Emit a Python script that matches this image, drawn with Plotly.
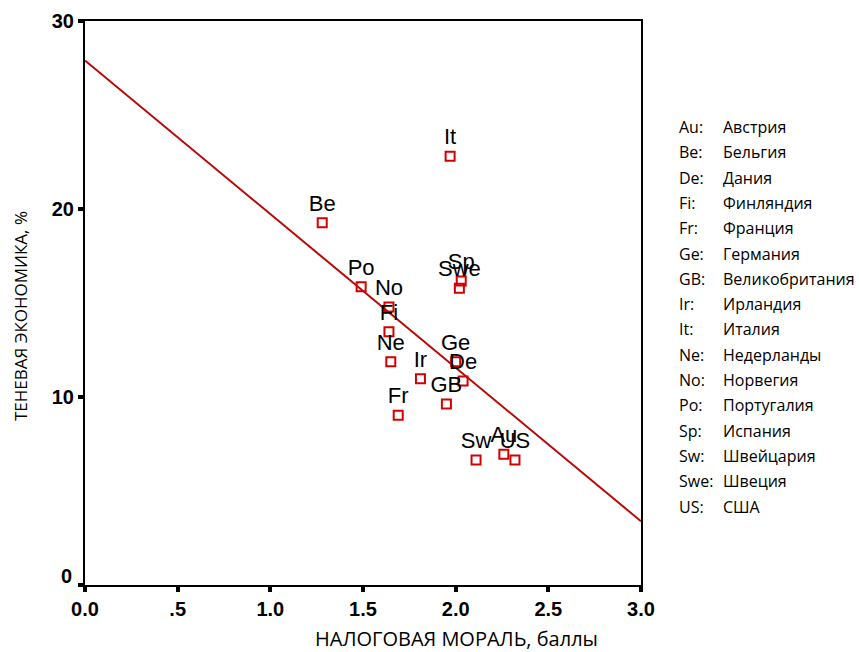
import plotly.graph_objects as go

# ---- data ----
codes = ["Au", "Be", "De", "Fi", "Fr", "Ge", "GB", "Ir", "It", "Ne", "No", "Po", "Sp", "Sw", "Swe", "US"]
names = ["Австрия", "Бельгия", "Дания", "Финляндия", "Франция", "Германия", "Великобритания",
         "Ирландия", "Италия", "Недерланды", "Норвегия", "Португалия", "Испания", "Швейцария",
         "Швеция", "США"]
tax_morale = [2.26, 1.28, 2.04, 1.64, 1.69, 2.00, 1.95, 1.81, 1.97, 1.65, 1.64, 1.49, 2.03, 2.11, 2.02, 2.32]
shadow_econ = [6.95, 19.27, 10.85, 13.47, 9.03, 11.88, 9.63, 10.97, 22.8, 11.88, 14.79, 15.87, 16.17, 6.65, 15.78, 6.65]

fit_intercept = 27.9
fit_slope = -8.17
fit_x = [0.0, 3.0]

x_tickvals = [0, 0.5, 1.0, 1.5, 2.0, 2.5, 3.0]
x_ticktext = ["0.0", ".5", "1.0", "1.5", "2.0", "2.5", "3.0"]
y_tickvals = [0, 10, 20, 30]
y_ticktext = ["", "10", "20", "30"]   # "0" drawn slightly raised, as in the original

# ---- layout geometry (page pixels) ----
W, H = 859, 652
PLOT_L, PLOT_T, PLOT_R, PLOT_B = 85, 21, 641, 585
L, T = PLOT_L, PLOT_T
pw, ph = PLOT_R - PLOT_L, PLOT_B - PLOT_T
R = W - L - pw
B = H - T - ph

def px_to_paper_x(px):
    return (px - PLOT_L) / pw

def py_to_paper_y(py):
    return (PLOT_B - py) / ph

fig = go.Figure()

fig.add_trace(go.Scatter(
    x=fit_x, y=[fit_intercept + fit_slope * v for v in fit_x],
    mode="lines", line=dict(color="#b80808", width=2), hoverinfo="skip",
    showlegend=False, cliponaxis=True,
))

fig.add_trace(go.Scatter(
    x=tax_morale, y=shadow_econ, mode="markers+text", text=codes,
    textposition="top center",
    textfont=dict(family="Liberation Sans, Arial", size=22, color="black"),
    marker=dict(symbol="square-open", size=9, color="#d40000", line=dict(width=2)),
    showlegend=False, cliponaxis=False,
))

axis_common = dict(
    showline=True, linecolor="black", linewidth=2, mirror=True,
    showgrid=False, zeroline=False, automargin=False,
    ticks="outside", ticklen=5, tickwidth=4, tickcolor="black",
    tickfont=dict(family="Liberation Sans, Arial", size=20, color="black", weight="bold"),
)

fig.update_xaxes(range=[0, 3], tickvals=x_tickvals, ticktext=x_ticktext, **axis_common)
fig.update_yaxes(range=[0, 30], tickvals=y_tickvals, ticktext=y_ticktext, **axis_common)

annotations = []
annotations.append(dict(
    text="0", xref="paper", yref="paper",
    x=px_to_paper_x(74), y=py_to_paper_y(576), showarrow=False,
    xanchor="right", yanchor="middle",
    font=dict(family="Liberation Sans, Arial", size=20, color="black", weight="bold"),
))
# axis titles
annotations.append(dict(
    text="НАЛОГОВАЯ МОРАЛЬ, баллы", xref="paper", yref="paper",
    x=px_to_paper_x(456), y=py_to_paper_y(638), showarrow=False,
    xanchor="center", yanchor="middle",
    font=dict(family="Open Sans", size=20, color="black"),
))
annotations.append(dict(
    text="ТЕНЕВАЯ ЭКОНОМИКА, %", xref="paper", yref="paper",
    x=px_to_paper_x(20), y=py_to_paper_y(316), showarrow=False, textangle=-90,
    xanchor="center", yanchor="middle",
    font=dict(family="Open Sans", size=17, color="black"),
))
# key
row0, dy = 127, 25.3
for i, (c, n) in enumerate(zip(codes, names)):
    yy = py_to_paper_y(row0 + i * dy)
    annotations.append(dict(
        text=c + ":", xref="paper", yref="paper", x=px_to_paper_x(677), y=yy,
        showarrow=False, xanchor="left", yanchor="middle",
        font=dict(family="Open Sans", size=16, color="black"),
    ))
    annotations.append(dict(
        text=n, xref="paper", yref="paper", x=px_to_paper_x(721), y=yy,
        showarrow=False, xanchor="left", yanchor="middle",
        font=dict(family="Open Sans", size=16, color="black"),
    ))

fig.update_layout(
    width=W, height=H,
    margin=dict(l=L, r=R, t=T, b=B),
    paper_bgcolor="white", plot_bgcolor="white",
    annotations=annotations,
)

fig.write_html("out.html", config={"displayModeBar": False},
               post_script="document.body.style.margin='0';")
